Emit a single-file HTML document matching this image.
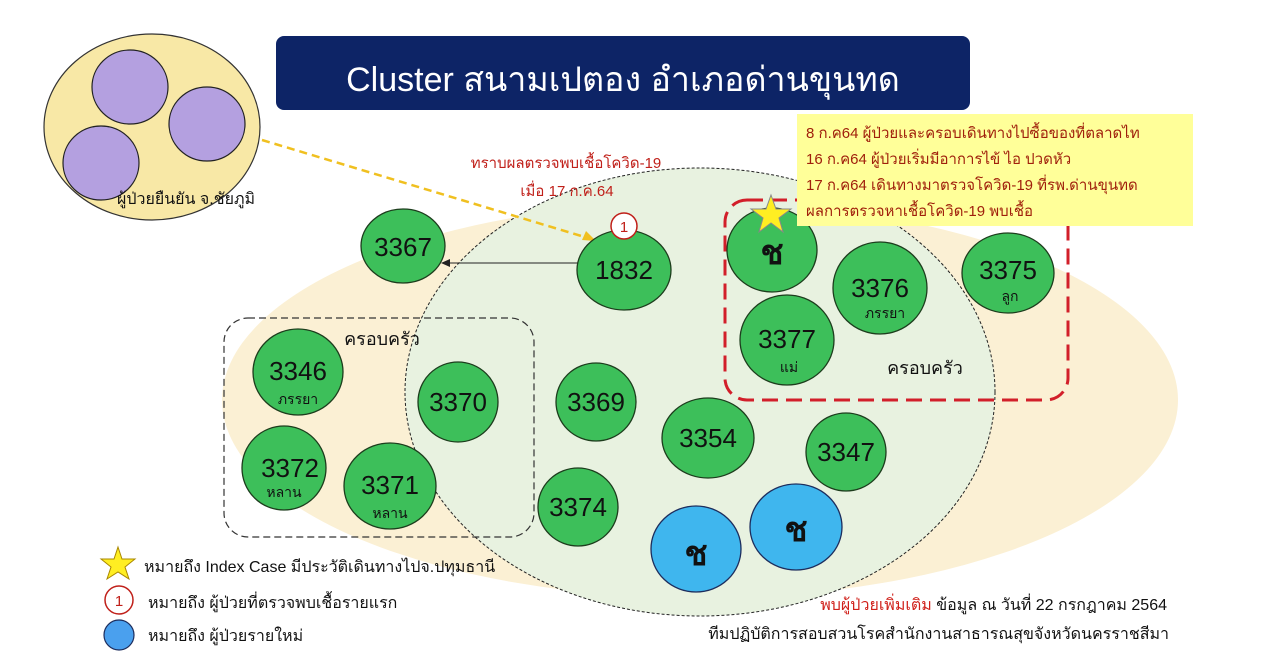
<!DOCTYPE html>
<html><head><meta charset="utf-8"><style>
html,body{margin:0;padding:0;background:#fff;}
svg{display:block;}
text{font-family:"Liberation Sans","DejaVu Sans",sans-serif;}
</style></head><body>
<svg width="1278" height="672" viewBox="0 0 1278 672" xmlns="http://www.w3.org/2000/svg">
<rect width="1278" height="672" fill="#ffffff"/>
<ellipse cx="700" cy="400" rx="478" ry="198" fill="#fbf0d4"/>
<ellipse cx="700" cy="392" rx="295" ry="224" fill="#e8f2e0" stroke="#222" stroke-width="1" stroke-dasharray="3,2"/>
<rect x="276" y="36" width="694" height="74" rx="8" fill="#0d2466"/>
<text x="623" y="91" font-size="34" fill="#fff" text-anchor="middle">Cluster สนามเปตอง อำเภอด่านขุนทด</text>
<ellipse cx="152" cy="127" rx="108" ry="93" fill="#f8e8a6" stroke="#333" stroke-width="1.2"/>
<ellipse cx="130" cy="87" rx="38" ry="37" fill="#b4a0e0" stroke="#222" stroke-width="1.2"/>
<ellipse cx="207" cy="124" rx="38" ry="37" fill="#b4a0e0" stroke="#222" stroke-width="1.2"/>
<ellipse cx="101" cy="163" rx="38" ry="37" fill="#b4a0e0" stroke="#222" stroke-width="1.2"/>
<text x="186" y="204" font-size="16" fill="#111" text-anchor="middle">ผู้ป่วยยืนยัน จ.ชัยภูมิ</text>
<line x1="262" y1="140" x2="588" y2="238" stroke="#f0c020" stroke-width="2.5" stroke-dasharray="8,5"/>
<polygon points="596,241 582,240 586,231" fill="#f0c020"/>
<text x="566" y="168" font-size="15" fill="#c0201a" text-anchor="middle">ทราบผลตรวจพบเชื้อโควิด-19</text>
<text x="567" y="196" font-size="15" fill="#c0201a" text-anchor="middle">เมื่อ 17 ก.ค.64</text>
<rect x="224" y="318" width="310" height="219" rx="24" fill="none" stroke="#333" stroke-width="1.2" stroke-dasharray="7,4"/>
<text x="382" y="345" font-size="18" fill="#111" text-anchor="middle">ครอบครัว</text>
<rect x="725" y="200" width="343" height="200" rx="22" fill="none" stroke="#d21f2a" stroke-width="3" stroke-dasharray="16,8"/>
<text x="925" y="374" font-size="18" fill="#111" text-anchor="middle">ครอบครัว</text>
<line x1="578" y1="263" x2="448" y2="263" stroke="#222" stroke-width="1"/>
<polygon points="441,263 450,259 450,267" fill="#222"/>
<g stroke="#1d3d1d" stroke-width="1.3" fill="#3dbf5a">
<ellipse cx="403" cy="246" rx="42" ry="37"/>
<ellipse cx="624" cy="270" rx="47" ry="40"/>
<ellipse cx="772" cy="250" rx="45" ry="42"/>
<ellipse cx="880" cy="288" rx="47" ry="46"/>
<ellipse cx="1008" cy="273" rx="46" ry="40"/>
<ellipse cx="787" cy="340" rx="47" ry="45"/>
<ellipse cx="298" cy="372" rx="45" ry="43"/>
<ellipse cx="458" cy="402" rx="40" ry="40"/>
<ellipse cx="596" cy="402" rx="40" ry="39"/>
<ellipse cx="708" cy="438" rx="46" ry="40"/>
<ellipse cx="846" cy="452" rx="40" ry="39"/>
<ellipse cx="284" cy="468" rx="42" ry="42"/>
<ellipse cx="390" cy="486" rx="46" ry="43"/>
<ellipse cx="578" cy="507" rx="40" ry="39"/>
</g>
<g stroke="#1d2d5d" stroke-width="1.3" fill="#3fb6ee">
<ellipse cx="696" cy="549" rx="45" ry="43"/>
<ellipse cx="796" cy="527" rx="46" ry="43"/>
</g>
<g font-size="26" fill="#111" text-anchor="middle">
<text x="403" y="256">3367</text>
<text x="624" y="279">1832</text>
<text x="880" y="297">3376</text>
<text x="1008" y="279">3375</text>
<text x="787" y="348">3377</text>
<text x="298" y="380">3346</text>
<text x="458" y="411">3370</text>
<text x="596" y="411">3369</text>
<text x="708" y="447">3354</text>
<text x="846" y="461">3347</text>
<text x="290" y="477">3372</text>
<text x="390" y="494">3371</text>
<text x="578" y="516">3374</text>
</g>
<g font-size="14" fill="#111" text-anchor="middle">
<text x="885" y="318">ภรรยา</text>
<text x="1010" y="301">ลูก</text>
<text x="789" y="372">แม่</text>
<text x="298" y="404">ภรรยา</text>
<text x="284" y="497">หลาน</text>
<text x="390" y="518">หลาน</text>
</g>
<g font-size="34" fill="#111" text-anchor="middle" font-weight="bold">
<text x="772" y="264">ช</text>
<text x="696" y="565">ช</text>
<text x="796" y="541">ช</text>
</g>
<polygon points="771,195 776,209 791,209 779,218 783,232 771,223 759,232 763,218 751,209 766,209" fill="#ffee22" stroke="#888" stroke-width="1"/>
<circle cx="624" cy="226" r="13" fill="#fff" stroke="#c0201a" stroke-width="1.5"/>
<text x="624" y="232" font-size="15" fill="#c0201a" text-anchor="middle">1</text>
<rect x="797" y="114" width="396" height="112" fill="#ffff99"/>
<g font-size="15" fill="#a0200c">
<text x="806" y="138">8 ก.ค64  ผู้ป่วยและครอบเดินทางไปซื้อของที่ตลาดไท</text>
<text x="806" y="164">16 ก.ค64 ผู้ป่วยเริ่มมีอาการไข้ ไอ ปวดหัว</text>
<text x="806" y="190">17 ก.ค64 เดินทางมาตรวจโควิด-19 ที่รพ.ด่านขุนทด</text>
<text x="806" y="216">ผลการตรวจหาเชื้อโควิด-19 พบเชื้อ</text>
</g>
<polygon points="118,547 122,559 135,559 125,567 129,579 118,572 107,579 111,567 101,559 114,559" fill="#ffee22" stroke="#aa8800" stroke-width="1"/>
<text x="144" y="572" font-size="16" fill="#111">หมายถึง Index Case มีประวัติเดินทางไปจ.ปทุมธานี</text>
<circle cx="119" cy="600" r="14" fill="#fff" stroke="#c0201a" stroke-width="1.5"/>
<text x="119" y="606" font-size="15" fill="#c0201a" text-anchor="middle">1</text>
<text x="148" y="608" font-size="16" fill="#111">หมายถึง ผู้ป่วยที่ตรวจพบเชื้อรายแรก</text>
<circle cx="119" cy="635" r="15" fill="#4aa0ee" stroke="#1d2d5d" stroke-width="1.2"/>
<text x="148" y="641" font-size="16" fill="#111">หมายถึง ผู้ป่วยรายใหม่</text>
<text x="1167" y="610" font-size="16" fill="#111" text-anchor="end"><tspan fill="#d0201a">พบผู้ป่วยเพิ่มเติม</tspan> ข้อมูล ณ วันที่ 22 กรกฎาคม 2564</text>
<text x="1169" y="639" font-size="16" fill="#111" text-anchor="end">ทีมปฏิบัติการสอบสวนโรคสำนักงานสาธารณสุขจังหวัดนครราชสีมา</text>
</svg>
</body></html>
